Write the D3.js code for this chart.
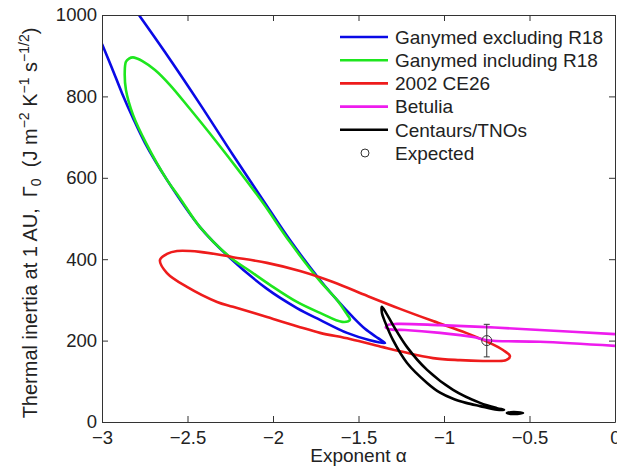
<!DOCTYPE html>
<html>
<head>
<meta charset="utf-8">
<script src="https://cdn.jsdelivr.net/npm/d3@7"></script>
<style>
  body { margin: 0; background: #fff; }
  svg { display: block; }
  text { font-family: "Liberation Sans", Arial, sans-serif; fill: #222; }
</style>
</head>
<body>
<svg id="chart" width="617" height="472"></svg>
<script>
// Axis ticks
const xTicks = [-3, -2.5, -2, -1.5, -1, -0.5, 0];
const yTicks = [0, 200, 400, 600, 800, 1000];

// Confidence contours in (alpha, Gamma0) space
// Ganymed excluding R18: open contour leaving the plot at the left and top
const ganymedExcl = [
  [-3.0, 929], [-2.942, 870], [-2.883, 808], [-2.819, 747], [-2.749, 686],
  [-2.620, 595], [-2.427, 479], [-2.251, 403], [-2.035, 327], [-1.860, 280],
  [-1.725, 251], [-1.567, 219], [-1.433, 201], [-1.345, 194],
  [-1.386, 206], [-1.462, 229], [-1.538, 260], [-1.626, 300], [-1.725, 349],
  [-1.901, 447], [-2.058, 545], [-2.234, 656], [-2.427, 781], [-2.632, 909],
  [-2.784, 1000]
];
// Ganymed including R18: closed contour
const ganymedIncl = [
  [-2.819, 896], [-2.795, 893], [-2.766, 887], [-2.690, 865], [-2.602, 828],
  [-2.485, 769], [-2.339, 693], [-2.193, 614], [-2.058, 538], [-1.901, 442],
  [-1.725, 346], [-1.626, 300], [-1.573, 268], [-1.550, 251],
  [-1.596, 246], [-1.725, 268], [-1.860, 295], [-2.018, 337], [-2.135, 371],
  [-2.251, 405], [-2.427, 479], [-2.544, 550], [-2.620, 595], [-2.743, 686],
  [-2.818, 754], [-2.860, 816], [-2.867, 860], [-2.860, 885], [-2.842, 893]
];
// 2002 CE26: closed contour
const ce26 = [
  [-2.661, 398], [-2.620, 413], [-2.561, 420], [-2.427, 418], [-2.234, 405],
  [-2.035, 391], [-1.842, 371], [-1.649, 344], [-1.450, 310], [-1.257, 278],
  [-1.064, 248], [-0.871, 219], [-0.731, 194], [-0.655, 177], [-0.614, 162],
  [-0.637, 152], [-0.702, 150], [-0.772, 150], [-0.906, 152], [-1.064, 157],
  [-1.257, 174], [-1.357, 184], [-1.550, 204], [-1.725, 219], [-1.842, 233],
  [-2.035, 258], [-2.234, 283], [-2.327, 295], [-2.503, 332], [-2.620, 366]
];
// Betulia: contour leaving the plot at alpha = 0
const betulia = [
  [0.0, 216], [-0.439, 226], [-0.749, 233], [-1.023, 238], [-1.275, 241],
  [-1.330, 238], [-1.340, 232], [-1.304, 227], [-1.228, 226], [-1.023, 219],
  [-0.830, 209], [-0.749, 201], [-0.439, 197], [0.0, 187]
];
// Centaurs/TNOs: crescent contour plus a small island
const centaurs = [
  [-1.363, 283], [-1.363, 268], [-1.345, 246], [-1.298, 201], [-1.216, 145],
  [-1.099, 96], [-1.023, 72], [-0.947, 57], [-0.871, 47], [-0.789, 39],
  [-0.690, 30], [-0.649, 30],
  [-0.690, 34], [-0.789, 47], [-0.947, 79], [-1.099, 128], [-1.216, 184],
  [-1.298, 238], [-1.339, 268]
];
const centaursIsland = [
  [-0.632, 22], [-0.610, 24], [-0.570, 24], [-0.538, 22], [-0.570, 20], [-0.610, 20]
];
// Expected value with uncertainty
const expectedAlpha = -0.75;
const expectedGamma = 200;
const expectedErr = 40;

const legendLabels = ["Ganymed excluding R18", "Ganymed including R18", "2002 CE26", "Betulia", "Centaurs/TNOs", "Expected"];
const colors = ["#0a0ae6", "#1ee61e", "#ee1c1c", "#ee1cee", "#000000"];

const svg = d3.select("#chart");
const plotLeft = 102, plotRight = 615, plotTop = 15, plotBottom = 422;
const x = d3.scaleLinear().domain([-3, 0]).range([plotLeft, plotRight]);
const y = d3.scaleLinear().domain([0, 1000]).range([plotBottom, plotTop]);
const fmt = d3.format("~g");

svg.append("defs").append("clipPath").attr("id", "plotClip")
  .append("rect").attr("x", plotLeft).attr("y", plotTop)
  .attr("width", plotRight - plotLeft).attr("height", plotBottom - plotTop);

const plot = svg.append("g").attr("clip-path", "url(#plotClip)");
const lineOpen = d3.line().x(d => x(d[0])).y(d => y(d[1])).curve(d3.curveCatmullRom.alpha(0.5));
const lineClosed = d3.line().x(d => x(d[0])).y(d => y(d[1])).curve(d3.curveCatmullRomClosed.alpha(0.5));
const lw = 2.6;

function draw(data, gen, color) {
  plot.append("path").attr("d", gen(data)).attr("fill", "none")
    .attr("stroke", color).attr("stroke-width", lw).attr("stroke-linejoin", "round");
}
draw(ganymedExcl, lineOpen, colors[0]);
draw(ganymedIncl, lineClosed, colors[1]);
draw(ce26, lineClosed, colors[2]);
draw(betulia, lineOpen, colors[3]);
draw(centaurs, lineClosed, colors[4]);
draw(centaursIsland, lineClosed, colors[4]);

// Expected point with error bar
const eg = svg.append("g").attr("stroke", "#333").attr("stroke-width", 1).attr("fill", "none");
eg.append("line").attr("x1", x(expectedAlpha)).attr("x2", x(expectedAlpha))
  .attr("y1", y(expectedGamma - expectedErr)).attr("y2", y(expectedGamma + expectedErr));
[expectedGamma - expectedErr, expectedGamma + expectedErr].forEach(v => {
  eg.append("line").attr("x1", x(expectedAlpha) - 3).attr("x2", x(expectedAlpha) + 3)
    .attr("y1", y(v)).attr("y2", y(v));
});
eg.append("circle").attr("cx", x(expectedAlpha)).attr("cy", y(expectedGamma)).attr("r", 5);

// Axes (ticks inward, mirrored on top and right)
const axisStyle = g => {
  g.selectAll(".domain").attr("stroke", "#333");
  g.selectAll(".tick line").attr("stroke", "#333");
  g.selectAll("text").attr("font-size", 18.5).attr("fill", "#222")
    .attr("font-family", "'Liberation Sans', Arial, sans-serif");
};
svg.append("g").attr("transform", `translate(0,${plotBottom})`)
  .call(d3.axisBottom(x).tickValues(xTicks).tickSizeInner(-6).tickSizeOuter(0).tickPadding(8.5).tickFormat(fmt))
  .call(axisStyle);
svg.append("g").attr("transform", `translate(0,${plotTop})`)
  .call(d3.axisTop(x).tickValues(xTicks).tickSizeInner(-6).tickSizeOuter(0).tickFormat(""))
  .call(axisStyle);
svg.append("g").attr("transform", `translate(${plotLeft},0)`)
  .call(d3.axisLeft(y).tickValues(yTicks).tickSizeInner(-6).tickSizeOuter(0).tickPadding(5).tickFormat(fmt))
  .call(axisStyle);
svg.append("g").attr("transform", `translate(${plotRight},0)`)
  .call(d3.axisRight(y).tickValues(yTicks).tickSizeInner(-6).tickSizeOuter(0).tickFormat(""))
  .call(axisStyle);

// Axis titles
svg.append("text").attr("x", (plotLeft + plotRight) / 2).attr("y", 462)
  .attr("text-anchor", "middle").attr("font-size", 19).text("Exponent α");

const yl = svg.append("text").attr("transform", "translate(37,223) rotate(-90)")
  .attr("text-anchor", "middle").attr("font-size", 20).style("white-space", "pre");
yl.append("tspan").text("Thermal inertia at 1 AU,  Γ");
yl.append("tspan").attr("font-size", 14).attr("dy", 4).text("0");
yl.append("tspan").attr("dy", -4).text("  (J m");
yl.append("tspan").attr("font-size", 14).attr("dy", -8).text("−2");
yl.append("tspan").attr("dy", 8).text(" K");
yl.append("tspan").attr("font-size", 14).attr("dy", -8).text("−1");
yl.append("tspan").attr("dy", 8).text(" s");
yl.append("tspan").attr("font-size", 14).attr("dy", -8).text("−1/2");
yl.append("tspan").attr("dy", 8).text(")");

// Legend
const lg = svg.append("g");
legendLabels.forEach((name, i) => {
  const cy = 37 + i * 23.2;
  if (i < 5) {
    lg.append("line").attr("x1", 340).attr("x2", 388).attr("y1", cy).attr("y2", cy)
      .attr("stroke", colors[i]).attr("stroke-width", lw);
  } else {
    lg.append("circle").attr("cx", 365).attr("cy", cy).attr("r", 4)
      .attr("fill", "none").attr("stroke", "#333").attr("stroke-width", 1);
  }
  lg.append("text").attr("x", 395).attr("y", cy + 6.7).attr("font-size", 19).text(name);
});
</script>
</body>
</html>
